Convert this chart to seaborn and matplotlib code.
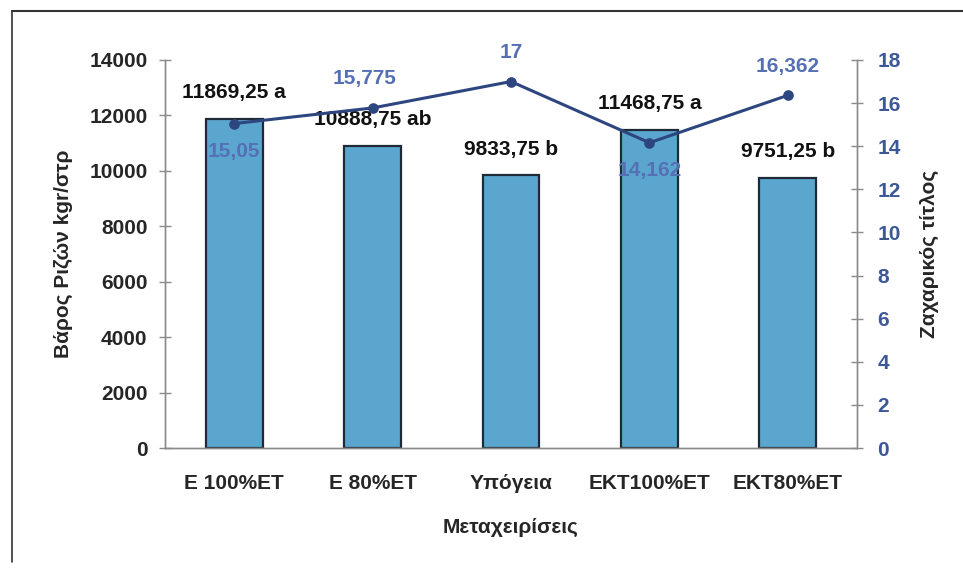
import numpy as np
import pandas as pd
import seaborn as sns
import matplotlib.pyplot as plt
from matplotlib.lines import Line2D

sns.set_theme(style='white')
plt.rcParams['font.family'] = ['Liberation Sans', 'DejaVu Sans']

###----- Data -----###
treatments = ['Ε 100%ΕΤ', 'Ε 80%ΕΤ', 'Υπόγεια', 'ΕΚΤ100%ΕΤ', 'ΕΚΤ80%ΕΤ']
root_weight = [11869.25, 10888.75, 9833.75, 11468.75, 9751.25]
weight_labels = ['11869,25 a', '10888,75 ab', '9833,75 b', '11468,75 a', '9751,25 b']
sugar = [15.05, 15.775, 17, 14.162, 16.362]
sugar_labels = ['15,05', '15,775', '17', '14,162', '16,362']
sugar_label_below = [True, False, False, True, False]

df = pd.DataFrame({'treat': treatments, 'weight': root_weight, 'sugar': sugar})

bar_col = '#5BA6CE'
line_col = '#2E4680'
lab_blue = '#5570B4'
tick_blue = '#3D5897'
axis_grey = '#8A8A8A'

fig = plt.figure(figsize=(9.63, 5.73), dpi=100)
ax = fig.add_axes([0.1713, 0.2181, 0.7187, 0.6772])

sns.barplot(data=df, x='treat', y='weight', ax=ax, color=bar_col, width=0.41,
            edgecolor='#1E2A36', linewidth=1.6, saturation=1)
ax.set_ylim(0, 14000)
ax.set_yticks(range(0, 14001, 2000))
ax.set_xlim(-0.5, 4.5)

for i, (v, t) in enumerate(zip(root_weight, weight_labels)):
    ax.annotate(t, (i, v), xytext=(0, 19), textcoords='offset points',
                ha='center', va='center', fontsize=15, fontweight='bold', color='#111111')

ax2 = ax.twinx()
sns.pointplot(data=df, x='treat', y='sugar', ax=ax2, color=line_col,
              markers='o', markersize=6, linewidth=2.2)
ax2.set_ylim(0, 18)
ax2.set_yticks(range(0, 19, 2))
ax2.set_xlim(-0.5, 4.5)

for i, (v, t, below) in enumerate(zip(sugar, sugar_labels, sugar_label_below)):
    dy = -20 if below else 21
    dx = -6 if i == 1 else 0
    ax2.annotate(t, (i, v), xytext=(dx, dy), textcoords='offset points',
                 ha='center', va='center', fontsize=15, fontweight='bold', color=lab_blue)

# axes styling
for a in (ax, ax2):
    a.spines['top'].set_visible(False)
    for s in ['left', 'right', 'bottom']:
        a.spines[s].set_color(axis_grey)
        a.spines[s].set_linewidth(1.0)

ax.set_xticks(range(len(treatments)))
ax.set_xticklabels(treatments, fontsize=15, fontweight='bold')
ax.set_xticks(np.arange(-0.5, 5, 1), minor=True)
ax.tick_params(axis='x', which='major', length=0, pad=19)
ax.tick_params(axis='x', which='minor', direction='inout', length=9, color=axis_grey, width=1)
ax.tick_params(axis='y', direction='inout', length=9, color=axis_grey, width=1,
               labelsize=15, pad=8, left=True)
for lab in ax.get_yticklabels():
    lab.set_fontweight('bold')

ax2.tick_params(axis='y', direction='inout', length=9, color=axis_grey, width=1,
                labelsize=15, labelcolor=tick_blue, pad=10, right=True)
for lab in ax2.get_yticklabels():
    lab.set_fontweight('bold')

ax.set_xlabel('Μεταχειρίσεις', fontsize=15, fontweight='bold', labelpad=18)
ax.set_ylabel('Βάρος Ριζών kgr/στρ', fontsize=15, fontweight='bold', labelpad=12)
ax2.set_ylabel('Ζαχαρικός τίτλος', fontsize=15, fontweight='bold', rotation=90,
               labelpad=14)
ax.grid(False)
ax2.grid(False)

# scanned frame edges (top and left)
fig.add_artist(Line2D([12 / 963, 1.0], [1 - 11 / 573, 1 - 11 / 573],
                      transform=fig.transFigure, color='#333333', linewidth=1.5))
fig.add_artist(Line2D([12 / 963, 12 / 963], [0.02, 1 - 11 / 573],
                      transform=fig.transFigure, color='#333333', linewidth=1.2))

fig.savefig('out.png', dpi=100)
